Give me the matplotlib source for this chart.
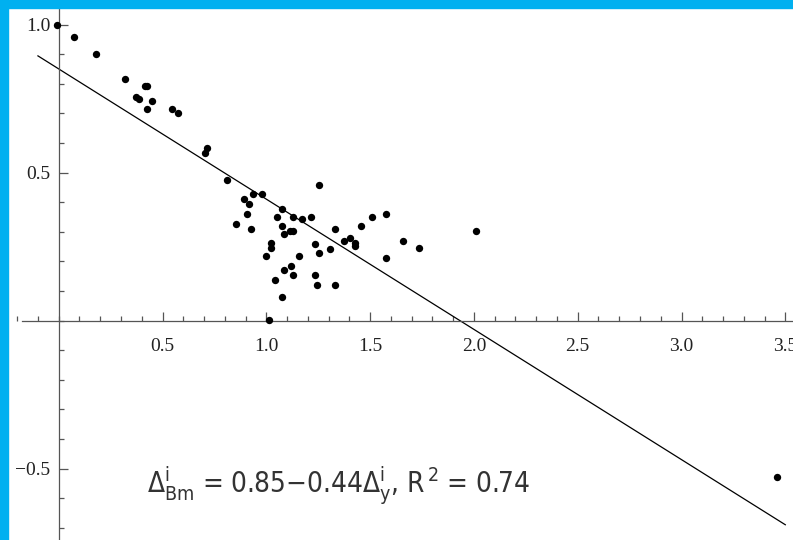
import numpy as np
import matplotlib
matplotlib.use("Agg")
import matplotlib.pyplot as plt
from matplotlib.patches import Rectangle
from matplotlib.ticker import MultipleLocator, FixedLocator

# scatter data
x_vals = [-0.01, 0.075, 0.181, 0.321, 0.372, 0.385, 0.414, 0.427, 0.425, 0.448,
          0.544, 0.575, 0.703, 0.713, 0.809, 0.894, 0.917, 0.937, 0.979, 0.906,
          0.853, 0.926, 1.255, 1.076, 1.053, 1.129, 1.172, 1.214, 1.076, 1.114,
          1.129, 1.085, 1.021, 1.021, 1.000, 1.159, 1.235, 1.255, 1.308, 1.331,
          1.373, 1.405, 1.426, 1.426, 1.458, 1.511, 1.575, 1.575, 1.660, 1.734,
          2.010, 1.087, 1.118, 1.129, 1.044, 1.235, 1.246, 1.331, 1.076, 1.011,
          3.458]
y_vals = [1.000, 0.958, 0.899, 0.816, 0.756, 0.749, 0.791, 0.791, 0.716, 0.742,
          0.716, 0.700, 0.567, 0.584, 0.476, 0.411, 0.394, 0.426, 0.426, 0.360,
          0.326, 0.310, 0.459, 0.377, 0.351, 0.351, 0.344, 0.351, 0.318, 0.301,
          0.301, 0.293, 0.261, 0.244, 0.218, 0.218, 0.259, 0.227, 0.243, 0.310,
          0.269, 0.278, 0.261, 0.252, 0.318, 0.351, 0.360, 0.210, 0.269, 0.244,
          0.301, 0.170, 0.185, 0.153, 0.136, 0.153, 0.119, 0.119, 0.078, 0.003,
          -0.528]

# fitted line
intercept = 0.85
slope = -0.44
r_squared = 0.74
fit_x = np.array([-0.1, 3.5])

x_major = [0.5, 1.0, 1.5, 2.0, 2.5, 3.0, 3.5]
y_major = [-0.5, 0.5, 1.0]

W, H = 793, 540
fig = plt.figure(figsize=(W / 100, H / 100), dpi=100)
ax = fig.add_axes([0, 0, 1, 1])

# pixel mapping: x=0 at 58.7px, 207.6 px/unit; y=0 at 320.5px, 296 px/unit
ax.set_xlim(-58.7 / 207.6, (W - 58.7) / 207.6)
ax.set_ylim((320.5 - H) / 296, 320.5 / 296)

ax.plot(fit_x, intercept + slope * fit_x, color="black", lw=0.9, zorder=2)
ax.scatter(x_vals, y_vals, s=28, color="black", zorder=3, linewidths=0)

axis_col = "#555555"
for side in ["top", "right"]:
    ax.spines[side].set_visible(False)
ax.spines["left"].set_position(("data", 0))
ax.spines["bottom"].set_position(("data", 0))
ax.spines["bottom"].set_bounds(-0.175, 3.6)
for side in ["left", "bottom"]:
    ax.spines[side].set_color(axis_col)
    ax.spines[side].set_linewidth(0.9)

ax.xaxis.set_major_locator(FixedLocator(x_major))
ax.xaxis.set_minor_locator(MultipleLocator(0.1))
ax.yaxis.set_major_locator(FixedLocator(y_major))
ax.yaxis.set_minor_locator(MultipleLocator(0.1))
ax.set_xticklabels([f"{v:.1f}" for v in x_major])
ax.set_yticklabels([f"{v:.1f}".replace("-", "\u2212") for v in y_major])

ax.tick_params(axis="both", which="both", direction="in", color=axis_col, width=0.9,
               labelsize=14, labelfontfamily="Liberation Serif", labelcolor="#222222")
ax.tick_params(axis="both", which="major", length=6.5)
ax.tick_params(axis="both", which="minor", length=3.6)
ax.tick_params(axis="x", which="major", pad=12.5)
ax.tick_params(axis="y", which="major", pad=6)

plt.rcParams["mathtext.fontset"] = "custom"
plt.rcParams["mathtext.rm"] = "DejaVu Sans:stretch=condensed"
plt.rcParams["mathtext.it"] = "DejaVu Sans:stretch=condensed"
label = (r"$\Delta^{i}_{Bm}$ = 0.85$-$0.44$\Delta^{i}_{y}$, R$^{\,2}$ = "
         + f"{r_squared:.2f}")
ax.text(0.425, -0.583, label, fontsize=20, family="DejaVu Sans", fontstretch="condensed",
        color="#333333", va="baseline", ha="left")

# blue frame on top and left edges
blue = "#00B0F0"
fig.add_artist(Rectangle((0, 0), 7.5 / W, 1, transform=fig.transFigure,
                         color=blue, zorder=10))
fig.add_artist(Rectangle((0, 1 - 7.5 / H), 1, 7.5 / H, transform=fig.transFigure,
                         color=blue, zorder=10))

fig.savefig("out.png", dpi=100)
